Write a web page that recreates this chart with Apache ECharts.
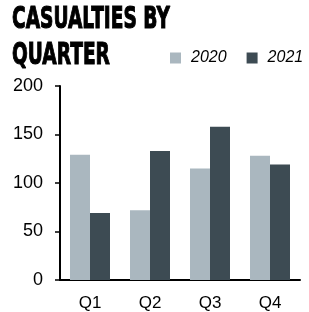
<!DOCTYPE html>
<html>
<head>
<meta charset="utf-8">
<script src="https://cdn.jsdelivr.net/npm/echarts@6/dist/echarts.min.js"></script>
<style>
  html, body { margin: 0; padding: 0; background: #fff; }
  #chart { width: 309px; height: 312px; }
</style>
</head>
<body>
<div id="chart"></div>
<script>
// data
const quarters = ['Q1', 'Q2', 'Q3', 'Q4']
const values2020 = [129, 72, 115, 128]
const values2021 = [69, 133, 158, 119]
const titleLines = ['CASUALTIES BY', 'QUARTER']

const chart = echarts.init(document.getElementById('chart'))

// narrow heavy title: bold text squeezed horizontally
const titleText = (text, y) => ({
  type: 'text',
  x: 12,
  y: y,
  scaleX: 0.6,
  style: {
    text: text,
    fontFamily: 'DejaVu Sans',
    fontWeight: 'bold',
    fontSize: 31,
    fill: '#000',
    stroke: '#000',
    lineWidth: 1.2,
    verticalAlign: 'middle'
  }
})

chart.setOption({
  animation: false,
  graphic: [
    titleText(titleLines[0], 20),
    titleText(titleLines[1], 56)
  ],
  legend: {
    left: 170,
    top: 50,
    padding: 0,
    width: 139,
    itemWidth: 11,
    itemHeight: 11,
    itemGap: 20,
    icon: 'rect',
    textStyle: {
      fontFamily: 'Liberation Sans',
      fontStyle: 'italic',
      fontSize: 16,
      color: '#000',
      padding: [0, 0, 0, 5]
    },
    data: ['2020', '2021']
  },
  grid: {
    left: 60,
    right: 9,
    top: 86,
    bottom: 32
  },
  xAxis: {
    type: 'category',
    data: quarters,
    axisLine: { lineStyle: { color: '#000', width: 2 } },
    axisTick: { show: false },
    axisLabel: {
      fontFamily: 'Liberation Sans',
      fontSize: 17,
      color: '#000',
      margin: 15
    }
  },
  yAxis: {
    type: 'value',
    min: 0,
    max: 200,
    interval: 50,
    axisLine: { show: true, lineStyle: { color: '#000', width: 2 } },
    axisTick: { show: true, length: 5, lineStyle: { color: '#000', width: 1.5 } },
    splitLine: { show: false },
    axisLabel: {
      fontFamily: 'Liberation Sans',
      fontSize: 18,
      color: '#000',
      margin: 17
    }
  },
  series: [
    {
      name: '2020',
      type: 'bar',
      data: values2020,
      barWidth: 20,
      barGap: '0%',
      itemStyle: { color: '#aab7bf' }
    },
    {
      name: '2021',
      type: 'bar',
      data: values2021,
      barWidth: 20,
      itemStyle: { color: '#3d4b53' }
    }
  ]
})
</script>
</body>
</html>
